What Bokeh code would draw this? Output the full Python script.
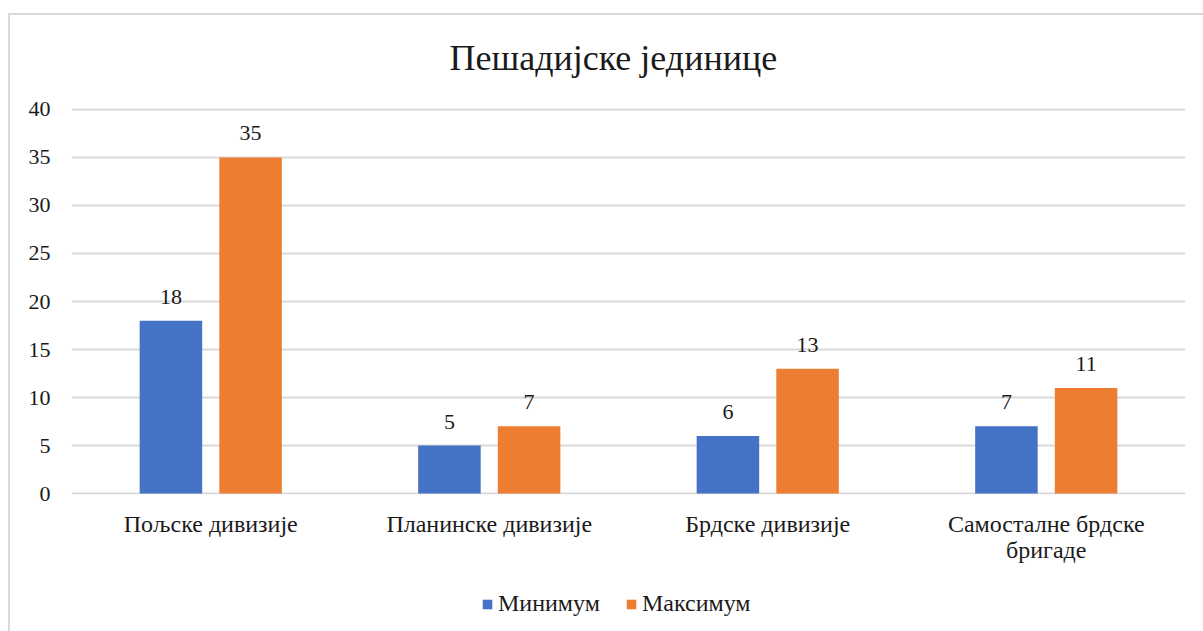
from bokeh.plotting import figure
from bokeh.layouts import column
from bokeh.models import FactorRange, Range1d, ColumnDataSource, Legend, LegendItem
from bokeh.transform import dodge
from bokeh.core.properties import value
from bokeh.embed import file_html
from bokeh.resources import INLINE

title_text = "Пешадијске јединице"
categories = ["Пољске дивизије", "Планинске дивизије", "Брдске дивизије", "Самосталне брдске\nбригаде"]
minimum = [18, 5, 6, 7]
maximum = [35, 7, 13, 11]
series_names = ["Минимум", "Максимум"]
y_ticks = [0, 5, 10, 15, 20, 25, 30, 35, 40]

BLUE = "#4472C4"
ORANGE = "#ED7D31"
FONT = "Liberation Serif"
TXT = "#1a1a1a"

src = ColumnDataSource(dict(
    cat=categories,
    mn=minimum,
    mx=maximum,
    mn_txt=[str(v) for v in minimum],
    mx_txt=[str(v) for v in maximum],
))

W = 1203
H_MAIN = 578
H_LEG = 53

p = figure(
    width=W, height=H_MAIN,
    x_range=FactorRange(*categories),
    y_range=Range1d(-0.1, 40.1),
    output_backend="svg", toolbar_location=None,
    min_border_left=71, min_border_right=18, min_border_top=108, min_border_bottom=84,
)
p.outline_line_color = None
p.background_fill_color = "white"
p.border_fill_alpha = 0

p.title.text = title_text
p.title.text_font = FONT
p.title.text_font_size = "36px"
p.title.text_font_style = "normal"
p.title.text_color = TXT
p.title.align = "left"
p.title.offset = 378
p.title.standoff = 62

off = 0.143
bw = 0.2245
r1 = p.vbar(x=dodge("cat", -off, range=p.x_range), top="mn", width=bw, bottom=0,
            source=src, fill_color=BLUE, line_color=None)
r2 = p.vbar(x=dodge("cat", off, range=p.x_range), top="mx", width=bw, bottom=0,
            source=src, fill_color=ORANGE, line_color=None)

for fld, txt, o in (("mn", "mn_txt", -off), ("mx", "mx_txt", off)):
    p.text(x=dodge("cat", o, range=p.x_range), y=fld, text=txt, source=src,
           text_align="center", text_baseline="alphabetic", y_offset=-24,
           text_font=value(FONT), text_font_size="22px", text_color=TXT)

p.ygrid.ticker = y_ticks
p.ygrid.grid_line_color = "#d9d9d9"
p.ygrid.grid_line_width = 2
p.xgrid.grid_line_color = None

p.yaxis.ticker = y_ticks
p.yaxis.axis_line_color = None
p.yaxis.major_tick_line_color = None
p.yaxis.minor_tick_line_color = None
p.yaxis.major_tick_out = 0
p.yaxis.major_tick_in = 0
p.yaxis.major_label_standoff = 21
p.yaxis.major_label_text_font = FONT
p.yaxis.major_label_text_font_size = "22px"
p.yaxis.major_label_text_color = TXT

p.xaxis.axis_line_color = None
p.xaxis.major_tick_line_color = None
p.xaxis.major_tick_out = 0
p.xaxis.major_tick_in = 0
p.xaxis.major_label_standoff = 16
p.xaxis.major_label_text_font = FONT
p.xaxis.major_label_text_font_size = "24px"
p.xaxis.major_label_text_line_height = 1.0
p.xaxis.major_label_text_color = TXT

# legend in a strip below the chart (its glyph renderers are hidden)
lf = figure(
    width=W, height=H_LEG, output_backend="svg", toolbar_location=None,
    x_range=FactorRange(*categories), y_range=Range1d(-2, -1),
    x_axis_location=None, y_axis_location=None,
    min_border=0, min_border_left=0, min_border_right=0, min_border_top=0, min_border_bottom=0,
)
lf.outline_line_color = None
lf.background_fill_alpha = 0
lf.border_fill_alpha = 0
lf.xgrid.visible = False
lf.ygrid.visible = False
l1 = lf.vbar(x="cat", top="mn", bottom="mn", width=0.2, source=src, fill_color=BLUE, line_color=None)
l2 = lf.vbar(x="cat", top="mx", bottom="mx", width=0.2, source=src, fill_color=ORANGE, line_color=None)
l1.visible = False
l2.visible = False

legend = Legend(
    items=[LegendItem(label=series_names[0], renderers=[l1], index=0),
           LegendItem(label=series_names[1], renderers=[l2], index=0)],
    orientation="horizontal", location=(410, 14),
    label_text_font=FONT, label_text_font_size="24px", label_text_color=TXT,
    glyph_width=12, glyph_height=12, spacing=25, label_standoff=5,
    padding=0, margin=0, border_line_color=None, background_fill_alpha=0,
    inactive_fill_alpha=0,
)
lf.add_layout(legend)

layout = column(
    p, lf, spacing=0,
    styles={
        "background-color": "white",
        "background-image": "linear-gradient(#d9d9d9, #d9d9d9), linear-gradient(#d9d9d9, #d9d9d9)",
        "background-position": "8px 13px, 8px 13px",
        "background-size": "2px 100%, 100% 2px",
        "background-repeat": "no-repeat",
    },
)

open("out.html", "w").write(file_html(layout, INLINE))
